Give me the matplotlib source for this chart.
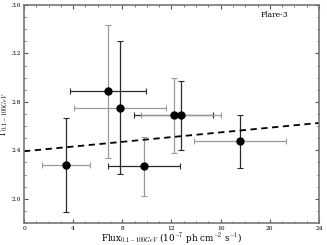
import numpy as np
import matplotlib
matplotlib.use('Agg')
import matplotlib.pyplot as plt
from matplotlib.ticker import MultipleLocator, FormatStrFormatter

plt.rcParams['mathtext.fontset'] = 'cm'
plt.rcParams['font.family'] = 'serif'
plt.rcParams['font.serif'] = ['DejaVu Serif']

# flare-3 points: flux, index, errors
flux = [3.44, 6.83, 7.83, 9.76, 12.17, 12.79, 17.59]
flux_err = [1.95, 3.12, 3.74, 2.95, 3.21, 3.27, 3.73]
gamma = [2.28, 2.887, 2.751, 2.267, 2.691, 2.691, 2.473]
gamma_err = [0.39, 0.55, 0.55, 0.24, 0.31, 0.285, 0.22]
# which error bar is grey: 'x' or 'y'
grey_bar = ['x', 'y', 'x', 'y', 'y', 'x', 'x']

# linear fit line
fit_x = [0, 24]
fit_y = [2.392, 2.626]

dark = '#2b2b2b'
grey = '#9a9a9a'

fig = plt.figure(figsize=(3.27, 2.45), dpi=100)
ax = fig.add_axes([0.0734, 0.0898, 0.9021, 0.89])

for i in range(len(flux)):
    xc = grey if grey_bar[i] == 'x' else dark
    yc = grey if grey_bar[i] == 'y' else dark
    ax.errorbar(flux[i], gamma[i], xerr=flux_err[i], fmt='none', ecolor=xc,
                elinewidth=0.9, capsize=2, capthick=0.8)
    ax.errorbar(flux[i], gamma[i], yerr=gamma_err[i], fmt='none', ecolor=yc,
                elinewidth=0.9, capsize=2, capthick=0.8)

ax.plot(flux, gamma, 'o', color='black', markersize=5, zorder=5)
ax.plot(fit_x, fit_y, '--', color='black', linewidth=1.3, dashes=(3.5, 2.5))

ax.set_xlim(0, 24)
ax.set_ylim(1.80, 3.6)
ax.xaxis.set_major_locator(MultipleLocator(4))
ax.xaxis.set_minor_locator(MultipleLocator(1))
ax.yaxis.set_major_locator(MultipleLocator(0.4))
ax.yaxis.set_minor_locator(MultipleLocator(0.1))
ax.xaxis.set_major_formatter(FormatStrFormatter('%d'))
ax.yaxis.set_major_formatter(FormatStrFormatter('%.1f'))
ax.tick_params(which='both', direction='in', top=True, right=True,
               labelsize=4.3, color='#555555', pad=2)
ax.tick_params(which='major', length=3, width=0.8)
ax.tick_params(which='minor', length=1.6, width=0.6)
for s in ax.spines.values():
    s.set_color('#777777')
    s.set_linewidth(1.2)

ax.set_xlabel(r'Flux$_{0.1-100GeV}$ (10$^{-7}$ ph cm$^{-2}$ s$^{-1}$)',
              fontsize=6.3, labelpad=0.5)
ax.set_ylabel(r'$\Gamma_{0.1-100GeV}$', fontsize=6.3, labelpad=1)
ax.text(0.85, 0.955, 'Flare-3', transform=ax.transAxes,
        fontsize=5.5, ha='center', va='center')

fig.savefig('out.png', dpi=100)
